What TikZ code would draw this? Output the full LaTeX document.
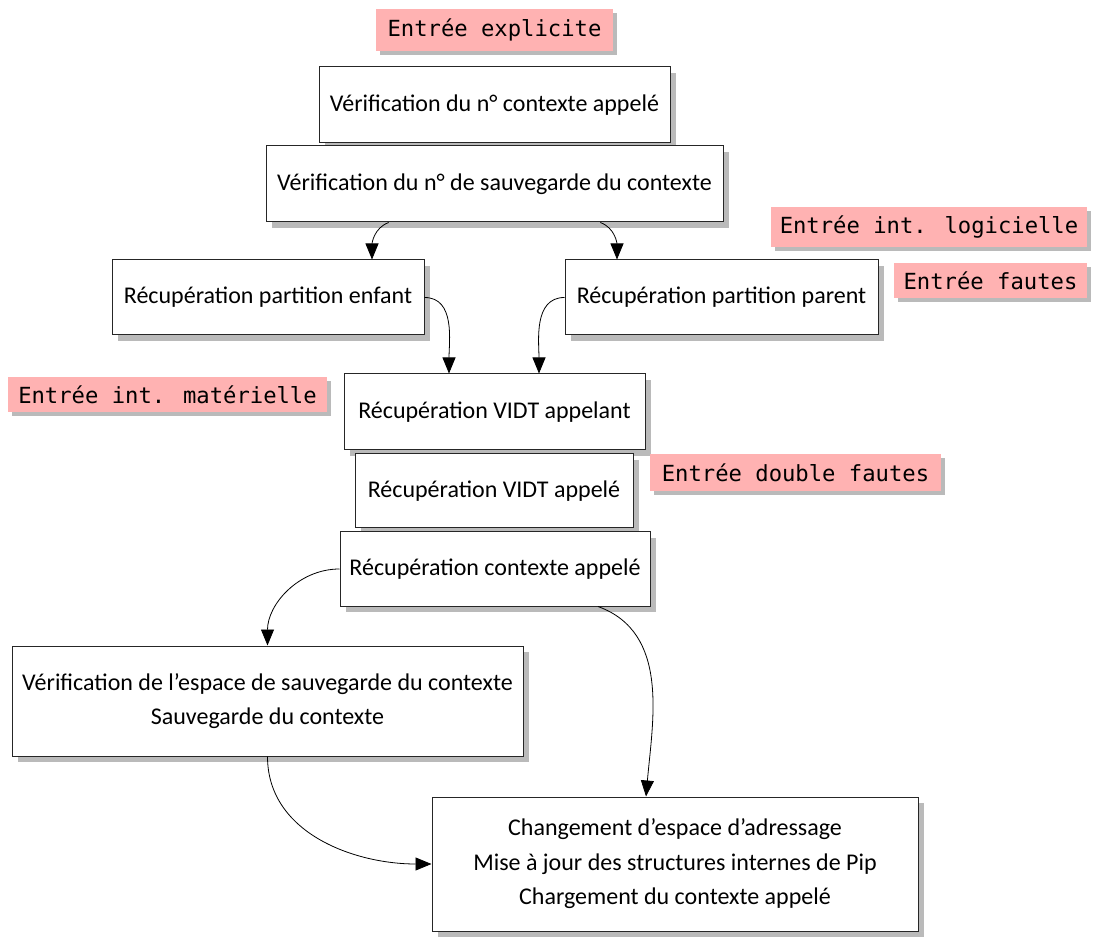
\documentclass[tikz,border=0pt]{standalone}
\usepackage{fontspec}
\setmainfont{Carlito}
\newfontfamily\monof{DejaVu Sans Mono}
\usetikzlibrary{shadows,arrows.meta}
\tikzset{
  box/.style={draw=black!85, line width=1pt, fill=white, align=center, inner sep=0pt,
    font=\fontsize{24}{34.5}\selectfont,
    general shadow={fill=black!27, shadow xshift=6pt, shadow yshift=-6pt}},
  tag/.style={fill=red!30, inner sep=0pt, font=\monof\fontsize{22.2}{26}\selectfont,
    general shadow={fill=black!27, shadow xshift=4pt, shadow yshift=-4pt}},
  arr/.style={-{Triangle[length=16pt,width=13pt]}, line width=0.8pt},
}
\begin{document}
\begin{tikzpicture}[x=1pt,y=1pt]
\useasboundingbox (0,0) rectangle (1096,-949);
\node[tag, minimum width=237pt, minimum height=42pt] (e1) at (494.5,-30) {Entrée explicite};
\node[box, minimum width=351pt, minimum height=76pt] (b1) at (494.5,-105) {Vérification du n° contexte appelé};
\node[box, minimum width=457pt, minimum height=76pt] (b2) at (494.5,-184) {Vérification du n° de sauvegarde du contexte};
\node[tag, minimum width=316pt, minimum height=40pt] (e2) at (929,-227) {Entrée int. logicielle};
\node[box, minimum width=312pt, minimum height=75pt] (b3) at (268,-297.5) {Récupération partition enfant};
\node[box, minimum width=313pt, minimum height=75pt] (b4) at (721.5,-297.5) {Récupération partition parent};
\node[tag, minimum width=193pt, minimum height=35pt] (e3) at (990.5,-280.5) {Entrée fautes};
\node[tag, minimum width=319pt, minimum height=35pt] (e4) at (167.5,-394.5) {Entrée int. matérielle};
\node[box, minimum width=301pt, minimum height=76pt] (b5) at (494.5,-412) {Récupération VIDT appelant};
\node[box, minimum width=278pt, minimum height=74pt] (b6) at (494,-491) {Récupération VIDT appelé};
\node[tag, minimum width=291pt, minimum height=37pt] (e5) at (795.5,-473) {Entrée double fautes};
\node[box, minimum width=310pt, minimum height=74pt] (b7) at (495,-569) {Récupération contexte appelé};
\node[box, minimum width=511pt, minimum height=110pt] (b8) at (267.5,-701) {Vérification de l’espace de sauvegarde du contexte\\Sauvegarde du contexte};
\node[box, minimum width=486pt, minimum height=134pt] (b9) at (675,-864) {Changement d’espace d’adressage\\Mise à jour des structures internes de Pip\\Chargement du contexte appelé};
\draw[arr] (b2) to[out=200,in=90] ([xshift=104pt]b3.north);
\draw[arr] (b2) to[out=-20,in=90] ([xshift=-104.5pt]b4.north);
\draw[arr] (b3.east) to[out=0,in=90] ([xshift=-45.5pt]b5.north);
\draw[arr] (b4.west) to[out=180,in=90] ([xshift=44.5pt]b5.north);
\draw[arr] (b7.west) to[out=180,in=90] (b8.north);
\draw[arr] (b7) to[out=-20,in=85] ([xshift=-29pt]b9.north);
\draw[arr] (b8.south) to[out=-90,in=180] (b9.west);
\end{tikzpicture}
\end{document}
